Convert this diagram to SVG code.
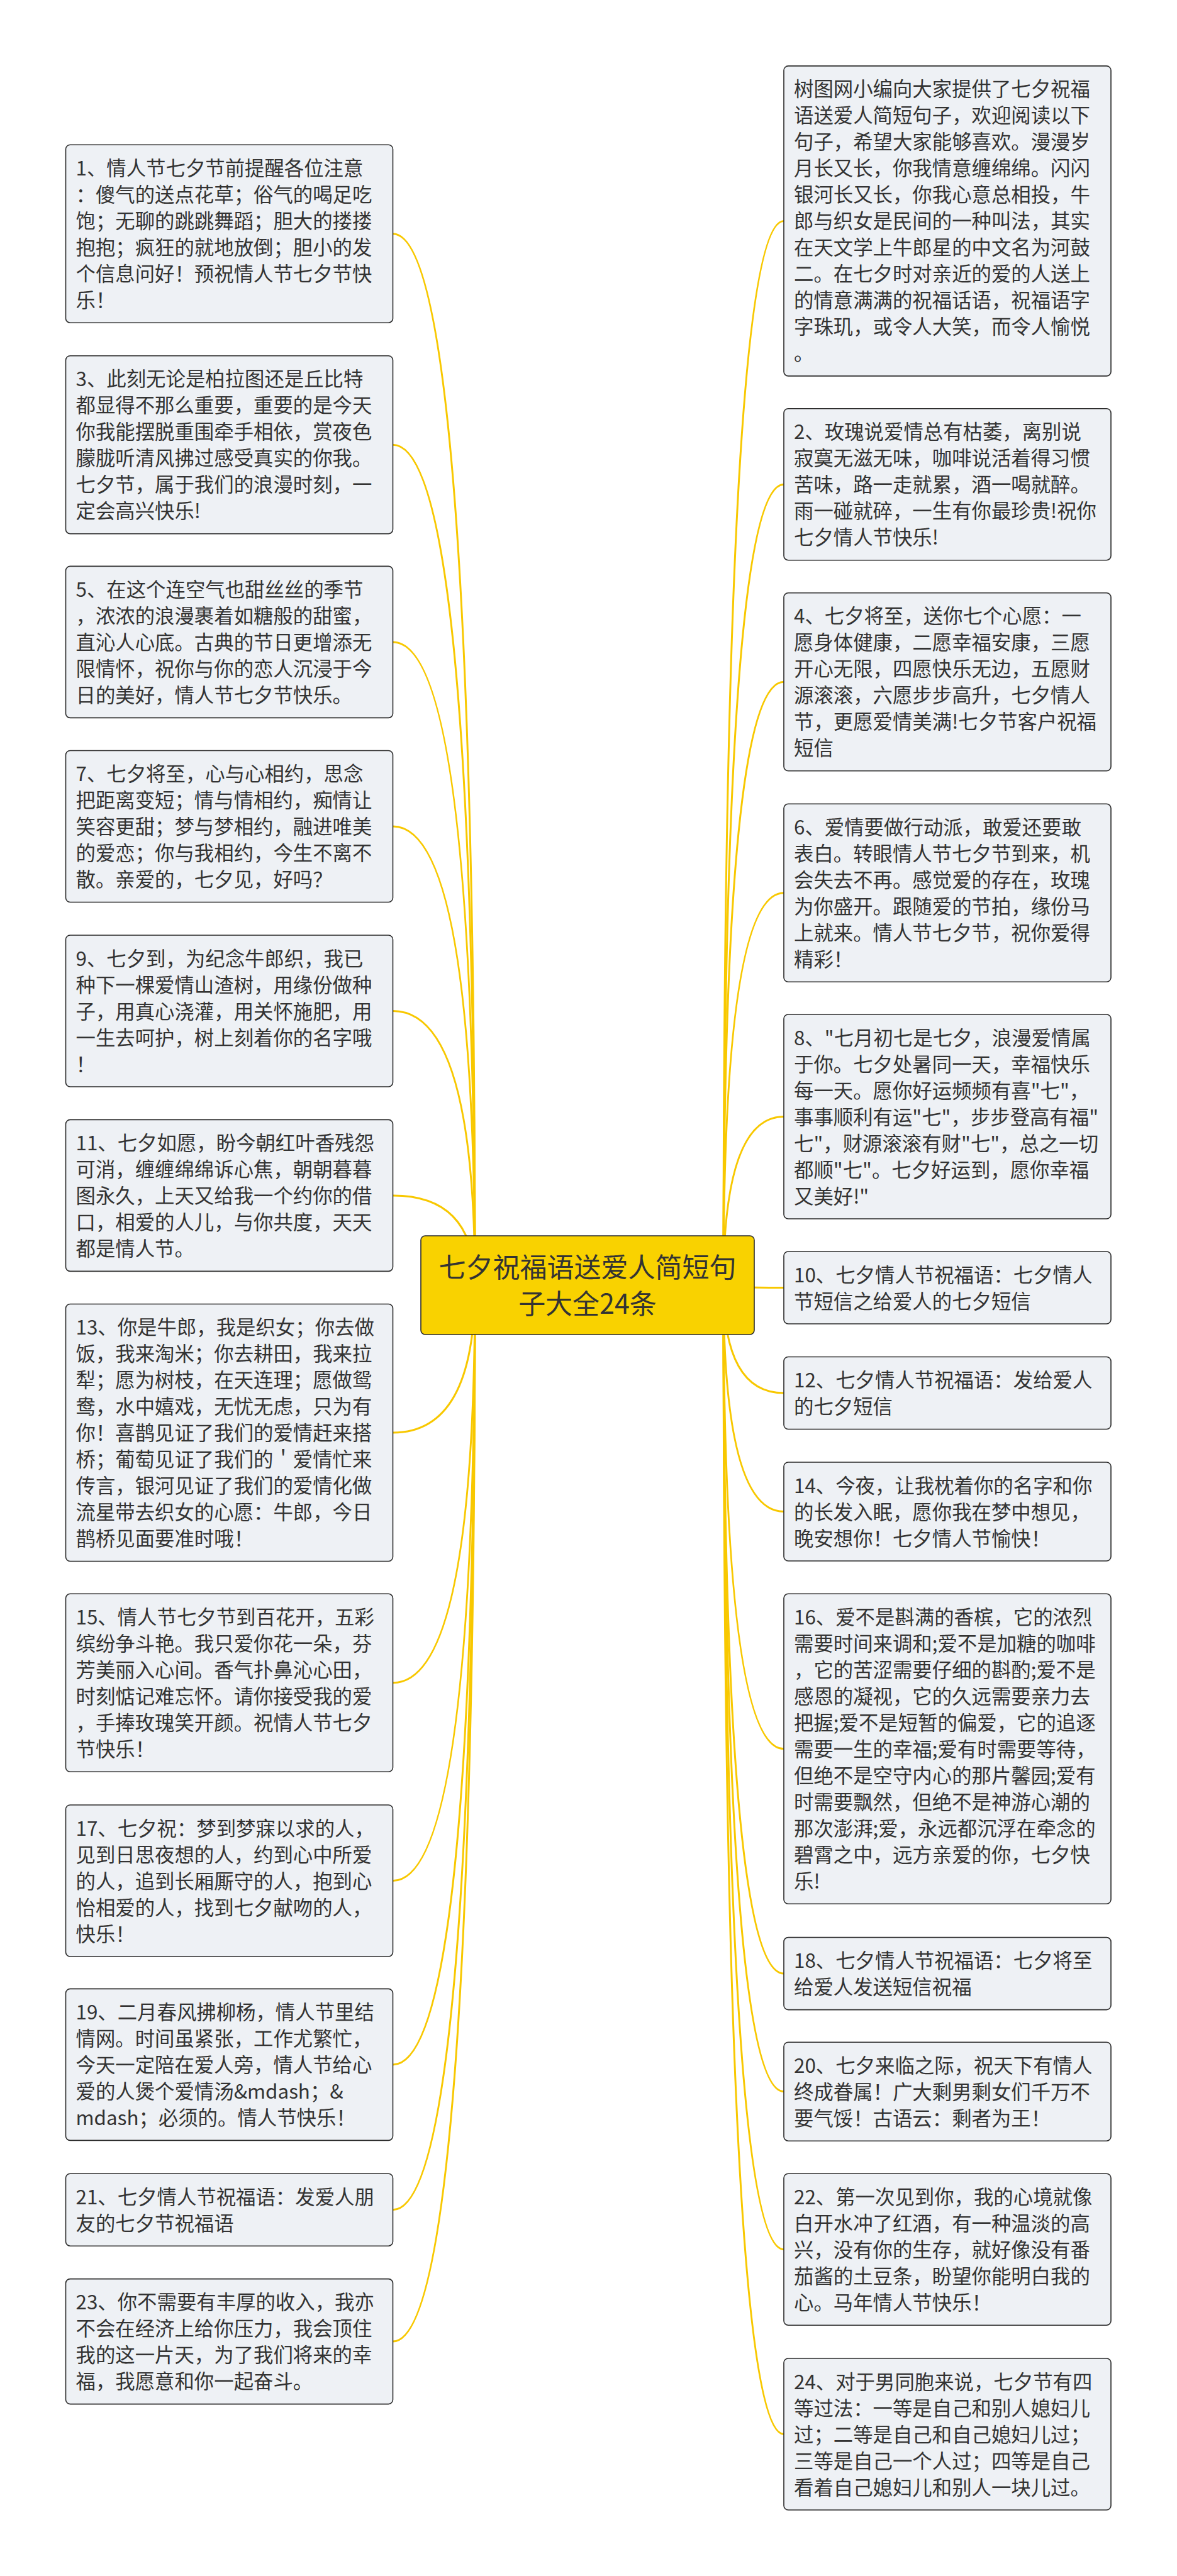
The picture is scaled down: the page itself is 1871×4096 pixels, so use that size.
<svg xmlns="http://www.w3.org/2000/svg" width="1871" height="4096" viewBox="0 0 1871 4096">
<style>
.bg{fill:#ffffff}
.box{fill:#eef1f5;stroke:#2b2b2b;stroke-width:1.6}
.t{font-family:"Noto Sans CJK SC","Noto Sans",sans-serif;font-size:31.4px;fill:#333333}
.root{fill:#f9d200;stroke:#2b2b2b;stroke-width:1.6}
.rt{font-family:"Noto Sans CJK SC","Noto Sans",sans-serif;font-size:43px;fill:#333333;text-anchor:middle}
.c{fill:none;stroke:#f8c800;stroke-width:3}
</style>
<rect class="bg" x="0" y="0" width="1871" height="4096"/>
<g id="connectors">
<path class="c" d="M755,2043.5 Q755,371.7 624.5,371.7"/>
<path class="c" d="M755,2043.5 Q755,707.2 624.5,707.2"/>
<path class="c" d="M755,2043.5 Q755,1020.9 624.5,1020.9"/>
<path class="c" d="M755,2043.5 Q755,1314 624.5,1314"/>
<path class="c" d="M755,2043.5 Q755,1607.5 624.5,1607.5"/>
<path class="c" d="M755,2043.5 Q755,1900.9 624.5,1900.9"/>
<path class="c" d="M755,2043.5 Q755,2278 624.5,2278"/>
<path class="c" d="M755,2043.5 Q755,2675.8 624.5,2675.8"/>
<path class="c" d="M755,2043.5 Q755,2990.5 624.5,2990.5"/>
<path class="c" d="M755,2043.5 Q755,3282.9 624.5,3282.9"/>
<path class="c" d="M755,2043.5 Q755,3513.7 624.5,3513.7"/>
<path class="c" d="M755,2043.5 Q755,3723.1 624.5,3723.1"/>
<path class="c" d="M1150,2043.5 Q1150,351.4 1246,351.4"/>
<path class="c" d="M1150,2043.5 Q1150,770.2 1246,770.2"/>
<path class="c" d="M1150,2043.5 Q1150,1084.3 1246,1084.3"/>
<path class="c" d="M1150,2043.5 Q1150,1419.8 1246,1419.8"/>
<path class="c" d="M1150,2043.5 Q1150,1775.5 1246,1775.5"/>
<path class="c" d="M1150,2043.5 Q1150,2047.5 1246,2047.5"/>
<path class="c" d="M1150,2043.5 Q1150,2215 1246,2215"/>
<path class="c" d="M1150,2043.5 Q1150,2403.5 1246,2403.5"/>
<path class="c" d="M1150,2043.5 Q1150,2780.8 1246,2780.8"/>
<path class="c" d="M1150,2043.5 Q1150,3138.1 1246,3138.1"/>
<path class="c" d="M1150,2043.5 Q1150,3325.7 1246,3325.7"/>
<path class="c" d="M1150,2043.5 Q1150,3576.7 1246,3576.7"/>
<path class="c" d="M1150,2043.5 Q1150,3870.5 1246,3870.5"/>
</g>
<g id="root">
<rect class="root" x="669" y="1965" width="530" height="157" rx="7"/>
<text class="rt" x="934" y="2031">七夕祝福语送爱人简短句</text>
<text class="rt" x="934" y="2089">子大全24条</text>
</g>
<g id="n1">
<rect class="box" x="104.5" y="230.2" width="520" height="283" rx="7"/>
<text class="t" x="120.5" y="278.7">1、情人节七夕节前提醒各位注意</text>
<text class="t" x="120.5" y="320.7">：傻气的送点花草；俗气的喝足吃</text>
<text class="t" x="120.5" y="362.7">饱；无聊的跳跳舞蹈；胆大的搂搂</text>
<text class="t" x="120.5" y="404.7">抱抱；疯狂的就地放倒；胆小的发</text>
<text class="t" x="120.5" y="446.7">个信息问好！预祝情人节七夕节快</text>
<text class="t" x="120.5" y="488.7">乐！</text>
</g>
<g id="n3">
<rect class="box" x="104.5" y="565.7" width="520" height="283" rx="7"/>
<text class="t" x="120.5" y="614.2">3、此刻无论是柏拉图还是丘比特</text>
<text class="t" x="120.5" y="656.2">都显得不那么重要，重要的是今天</text>
<text class="t" x="120.5" y="698.2">你我能摆脱重围牵手相依，赏夜色</text>
<text class="t" x="120.5" y="740.2">朦胧听清风拂过感受真实的你我。</text>
<text class="t" x="120.5" y="782.2">七夕节，属于我们的浪漫时刻，一</text>
<text class="t" x="120.5" y="824.2">定会高兴快乐!</text>
</g>
<g id="n5">
<rect class="box" x="104.5" y="900.4" width="520" height="241" rx="7"/>
<text class="t" x="120.5" y="948.9">5、在这个连空气也甜丝丝的季节</text>
<text class="t" x="120.5" y="990.9">，浓浓的浪漫裹着如糖般的甜蜜，</text>
<text class="t" x="120.5" y="1032.9">直沁人心底。古典的节日更增添无</text>
<text class="t" x="120.5" y="1074.9">限情怀，祝你与你的恋人沉浸于今</text>
<text class="t" x="120.5" y="1116.9">日的美好，情人节七夕节快乐。</text>
</g>
<g id="n7">
<rect class="box" x="104.5" y="1193.5" width="520" height="241" rx="7"/>
<text class="t" x="120.5" y="1242">7、七夕将至，心与心相约，思念</text>
<text class="t" x="120.5" y="1284">把距离变短；情与情相约，痴情让</text>
<text class="t" x="120.5" y="1326">笑容更甜；梦与梦相约，融进唯美</text>
<text class="t" x="120.5" y="1368">的爱恋；你与我相约，今生不离不</text>
<text class="t" x="120.5" y="1410">散。亲爱的，七夕见，好吗？</text>
</g>
<g id="n9">
<rect class="box" x="104.5" y="1487" width="520" height="241" rx="7"/>
<text class="t" x="120.5" y="1535.5">9、七夕到，为纪念牛郎织，我已</text>
<text class="t" x="120.5" y="1577.5">种下一棵爱情山渣树，用缘份做种</text>
<text class="t" x="120.5" y="1619.5">子，用真心浇灌，用关怀施肥，用</text>
<text class="t" x="120.5" y="1661.5">一生去呵护，树上刻着你的名字哦</text>
<text class="t" x="120.5" y="1703.5">！</text>
</g>
<g id="n11">
<rect class="box" x="104.5" y="1780.4" width="520" height="241" rx="7"/>
<text class="t" x="120.5" y="1828.9">11、七夕如愿，盼今朝红叶香残怨</text>
<text class="t" x="120.5" y="1870.9">可消，缠缠绵绵诉心焦，朝朝暮暮</text>
<text class="t" x="120.5" y="1912.9">图永久，上天又给我一个约你的借</text>
<text class="t" x="120.5" y="1954.9">口，相爱的人儿，与你共度，天天</text>
<text class="t" x="120.5" y="1996.9">都是情人节。</text>
</g>
<g id="n13">
<rect class="box" x="104.5" y="2073.5" width="520" height="409" rx="7"/>
<text class="t" x="120.5" y="2122">13、你是牛郎，我是织女；你去做</text>
<text class="t" x="120.5" y="2164">饭，我来淘米；你去耕田，我来拉</text>
<text class="t" x="120.5" y="2206">犁；愿为树枝，在天连理；愿做鸳</text>
<text class="t" x="120.5" y="2248">鸯，水中嬉戏，无忧无虑，只为有</text>
<text class="t" x="120.5" y="2290">你！喜鹊见证了我们的爱情赶来搭</text>
<text class="t" x="120.5" y="2332">桥；葡萄见证了我们的＇爱情忙来</text>
<text class="t" x="120.5" y="2374">传言，银河见证了我们的爱情化做</text>
<text class="t" x="120.5" y="2416">流星带去织女的心愿：牛郎，今日</text>
<text class="t" x="120.5" y="2458">鹊桥见面要准时哦！</text>
</g>
<g id="n15">
<rect class="box" x="104.5" y="2534.3" width="520" height="283" rx="7"/>
<text class="t" x="120.5" y="2582.8">15、情人节七夕节到百花开，五彩</text>
<text class="t" x="120.5" y="2624.8">缤纷争斗艳。我只爱你花一朵，芬</text>
<text class="t" x="120.5" y="2666.8">芳美丽入心间。香气扑鼻沁心田，</text>
<text class="t" x="120.5" y="2708.8">时刻惦记难忘怀。请你接受我的爱</text>
<text class="t" x="120.5" y="2750.8">，手捧玫瑰笑开颜。祝情人节七夕</text>
<text class="t" x="120.5" y="2792.8">节快乐！</text>
</g>
<g id="n17">
<rect class="box" x="104.5" y="2870" width="520" height="241" rx="7"/>
<text class="t" x="120.5" y="2918.5">17、七夕祝：梦到梦寐以求的人，</text>
<text class="t" x="120.5" y="2960.5">见到日思夜想的人，约到心中所爱</text>
<text class="t" x="120.5" y="3002.5">的人，追到长厢厮守的人，抱到心</text>
<text class="t" x="120.5" y="3044.5">怡相爱的人，找到七夕献吻的人，</text>
<text class="t" x="120.5" y="3086.5">快乐！</text>
</g>
<g id="n19">
<rect class="box" x="104.5" y="3162.4" width="520" height="241" rx="7"/>
<text class="t" x="120.5" y="3210.9">19、二月春风拂柳杨，情人节里结</text>
<text class="t" x="120.5" y="3252.9">情网。时间虽紧张，工作尤繁忙，</text>
<text class="t" x="120.5" y="3294.9">今天一定陪在爱人旁，情人节给心</text>
<text class="t" x="120.5" y="3336.9">爱的人煲个爱情汤&amp;mdash；&amp;</text>
<text class="t" x="120.5" y="3378.9">mdash；必须的。情人节快乐！</text>
</g>
<g id="n21">
<rect class="box" x="104.5" y="3456.2" width="520" height="115" rx="7"/>
<text class="t" x="120.5" y="3504.7">21、七夕情人节祝福语：发爱人朋</text>
<text class="t" x="120.5" y="3546.7">友的七夕节祝福语</text>
</g>
<g id="n23">
<rect class="box" x="104.5" y="3623.6" width="520" height="199" rx="7"/>
<text class="t" x="120.5" y="3672.1">23、你不需要有丰厚的收入，我亦</text>
<text class="t" x="120.5" y="3714.1">不会在经济上给你压力，我会顶住</text>
<text class="t" x="120.5" y="3756.1">我的这一片天，为了我们将来的幸</text>
<text class="t" x="120.5" y="3798.1">福，我愿意和你一起奋斗。</text>
</g>
<g id="intro">
<rect class="box" x="1246" y="104.9" width="520" height="493" rx="7"/>
<text class="t" x="1262" y="153.4">树图网小编向大家提供了七夕祝福</text>
<text class="t" x="1262" y="195.4">语送爱人简短句子，欢迎阅读以下</text>
<text class="t" x="1262" y="237.4">句子，希望大家能够喜欢。漫漫岁</text>
<text class="t" x="1262" y="279.4">月长又长，你我情意缠绵绵。闪闪</text>
<text class="t" x="1262" y="321.4">银河长又长，你我心意总相投，牛</text>
<text class="t" x="1262" y="363.4">郎与织女是民间的一种叫法，其实</text>
<text class="t" x="1262" y="405.4">在天文学上牛郎星的中文名为河鼓</text>
<text class="t" x="1262" y="447.4">二。在七夕时对亲近的爱的人送上</text>
<text class="t" x="1262" y="489.4">的情意满满的祝福话语，祝福语字</text>
<text class="t" x="1262" y="531.4">字珠玑，或令人大笑，而令人愉悦</text>
<text class="t" x="1262" y="573.4">。</text>
</g>
<g id="n2">
<rect class="box" x="1246" y="649.7" width="520" height="241" rx="7"/>
<text class="t" x="1262" y="698.2">2、玫瑰说爱情总有枯萎，离别说</text>
<text class="t" x="1262" y="740.2">寂寞无滋无味，咖啡说活着得习惯</text>
<text class="t" x="1262" y="782.2">苦味，路一走就累，酒一喝就醉。</text>
<text class="t" x="1262" y="824.2">雨一碰就碎，一生有你最珍贵!祝你</text>
<text class="t" x="1262" y="866.2">七夕情人节快乐!</text>
</g>
<g id="n4">
<rect class="box" x="1246" y="942.8" width="520" height="283" rx="7"/>
<text class="t" x="1262" y="991.3">4、七夕将至，送你七个心愿：一</text>
<text class="t" x="1262" y="1033.3">愿身体健康，二愿幸福安康，三愿</text>
<text class="t" x="1262" y="1075.3">开心无限，四愿快乐无边，五愿财</text>
<text class="t" x="1262" y="1117.3">源滚滚，六愿步步高升，七夕情人</text>
<text class="t" x="1262" y="1159.3">节，更愿爱情美满!七夕节客户祝福</text>
<text class="t" x="1262" y="1201.3">短信</text>
</g>
<g id="n6">
<rect class="box" x="1246" y="1278.3" width="520" height="283" rx="7"/>
<text class="t" x="1262" y="1326.8">6、爱情要做行动派，敢爱还要敢</text>
<text class="t" x="1262" y="1368.8">表白。转眼情人节七夕节到来，机</text>
<text class="t" x="1262" y="1410.8">会失去不再。感觉爱的存在，玫瑰</text>
<text class="t" x="1262" y="1452.8">为你盛开。跟随爱的节拍，缘份马</text>
<text class="t" x="1262" y="1494.8">上就来。情人节七夕节，祝你爱得</text>
<text class="t" x="1262" y="1536.8">精彩！</text>
</g>
<g id="n8">
<rect class="box" x="1246" y="1613" width="520" height="325" rx="7"/>
<text class="t" x="1262" y="1661.5">8、"七月初七是七夕，浪漫爱情属</text>
<text class="t" x="1262" y="1703.5">于你。七夕处暑同一天，幸福快乐</text>
<text class="t" x="1262" y="1745.5">每一天。愿你好运频频有喜"七"，</text>
<text class="t" x="1262" y="1787.5">事事顺利有运"七"，步步登高有福"</text>
<text class="t" x="1262" y="1829.5">七"，财源滚滚有财"七"，总之一切</text>
<text class="t" x="1262" y="1871.5">都顺"七"。七夕好运到，愿你幸福</text>
<text class="t" x="1262" y="1913.5">又美好!"</text>
</g>
<g id="n10">
<rect class="box" x="1246" y="1990" width="520" height="115" rx="7"/>
<text class="t" x="1262" y="2038.5">10、七夕情人节祝福语：七夕情人</text>
<text class="t" x="1262" y="2080.5">节短信之给爱人的七夕短信</text>
</g>
<g id="n12">
<rect class="box" x="1246" y="2157.5" width="520" height="115" rx="7"/>
<text class="t" x="1262" y="2206">12、七夕情人节祝福语：发给爱人</text>
<text class="t" x="1262" y="2248">的七夕短信</text>
</g>
<g id="n14">
<rect class="box" x="1246" y="2325" width="520" height="157" rx="7"/>
<text class="t" x="1262" y="2373.5">14、今夜，让我枕着你的名字和你</text>
<text class="t" x="1262" y="2415.5">的长发入眠，愿你我在梦中想见，</text>
<text class="t" x="1262" y="2457.5">晚安想你！七夕情人节愉快！</text>
</g>
<g id="n16">
<rect class="box" x="1246" y="2534.3" width="520" height="493" rx="7"/>
<text class="t" x="1262" y="2582.8">16、爱不是斟满的香槟，它的浓烈</text>
<text class="t" x="1262" y="2624.8">需要时间来调和;爱不是加糖的咖啡</text>
<text class="t" x="1262" y="2666.8">，它的苦涩需要仔细的斟酌;爱不是</text>
<text class="t" x="1262" y="2708.8">感恩的凝视，它的久远需要亲力去</text>
<text class="t" x="1262" y="2750.8">把握;爱不是短暂的偏爱，它的追逐</text>
<text class="t" x="1262" y="2792.8">需要一生的幸福;爱有时需要等待，</text>
<text class="t" x="1262" y="2834.8">但绝不是空守内心的那片馨园;爱有</text>
<text class="t" x="1262" y="2876.8">时需要飘然，但绝不是神游心潮的</text>
<text class="t" x="1262" y="2918.8">那次澎湃;爱，永远都沉浮在牵念的</text>
<text class="t" x="1262" y="2960.8">碧霄之中，远方亲爱的你，七夕快</text>
<text class="t" x="1262" y="3002.8">乐!</text>
</g>
<g id="n18">
<rect class="box" x="1246" y="3080.6" width="520" height="115" rx="7"/>
<text class="t" x="1262" y="3129.1">18、七夕情人节祝福语：七夕将至</text>
<text class="t" x="1262" y="3171.1">给爱人发送短信祝福</text>
</g>
<g id="n20">
<rect class="box" x="1246" y="3247.2" width="520" height="157" rx="7"/>
<text class="t" x="1262" y="3295.7">20、七夕来临之际，祝天下有情人</text>
<text class="t" x="1262" y="3337.7">终成眷属！广大剩男剩女们千万不</text>
<text class="t" x="1262" y="3379.7">要气馁！古语云：剩者为王！</text>
</g>
<g id="n22">
<rect class="box" x="1246" y="3456.2" width="520" height="241" rx="7"/>
<text class="t" x="1262" y="3504.7">22、第一次见到你，我的心境就像</text>
<text class="t" x="1262" y="3546.7">白开水冲了红酒，有一种温淡的高</text>
<text class="t" x="1262" y="3588.7">兴，没有你的生存，就好像没有番</text>
<text class="t" x="1262" y="3630.7">茄酱的土豆条，盼望你能明白我的</text>
<text class="t" x="1262" y="3672.7">心。马年情人节快乐！</text>
</g>
<g id="n24">
<rect class="box" x="1246" y="3750" width="520" height="241" rx="7"/>
<text class="t" x="1262" y="3798.5">24、对于男同胞来说，七夕节有四</text>
<text class="t" x="1262" y="3840.5">等过法：一等是自己和别人媳妇儿</text>
<text class="t" x="1262" y="3882.5">过；二等是自己和自己媳妇儿过；</text>
<text class="t" x="1262" y="3924.5">三等是自己一个人过；四等是自己</text>
<text class="t" x="1262" y="3966.5">看着自己媳妇儿和别人一块儿过。</text>
</g>
</svg>
